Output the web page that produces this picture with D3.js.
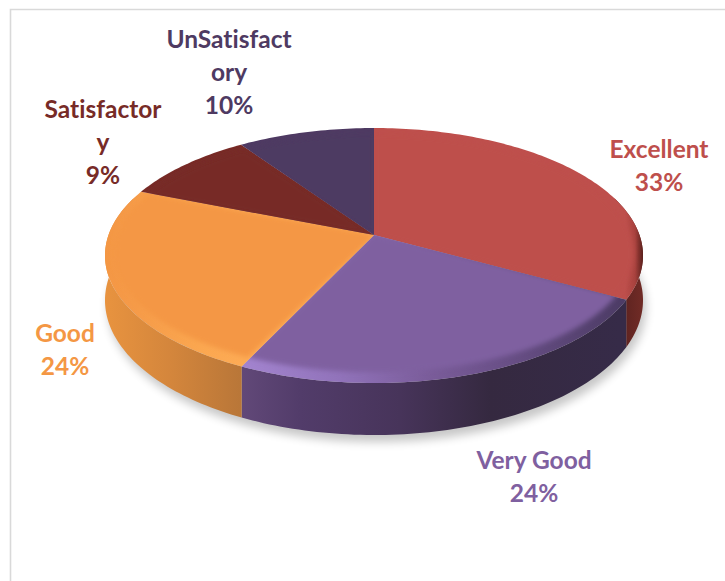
<!DOCTYPE html>
<html>
<head>
<meta charset="utf-8">
<script src="https://cdn.jsdelivr.net/npm/d3@7"></script>
<style>
  html, body { margin: 0; padding: 0; background: #fff; }
  svg { display: block; }
  text { font-family: Lato, "Open Sans", sans-serif; font-weight: 700; font-size: 24.5px; text-anchor: middle; font-variant-ligatures: none; }
</style>
</head>
<body>
<svg id="chart" width="725" height="581"></svg>
<script>
'use strict';

const categories = [ 'Excellent', 'Very Good', 'Good', 'Satisfactory', 'UnSatisfactory' ];
const values     = [ 33, 24, 24, 9.4, 9.6 ];
const colors     = [ '#BE4F4C', '#7F60A0', '#F49744', '#772B27', '#4E3A62' ];

// label centre x and first baseline, same order as categories
const labelX = [ 659, 534, 65, 103, 229 ];
const labelY = [ 158, 469, 342, 118, 48 ];
const lineHeight = 33;

// perspective of the disc
const view = { cx: 374, cy: 235, rx: 265.5, ry: 124.2, tilt: -0.161, depth: 43.6 };

const svg = d3.select( '#chart' );
const color = d3.scaleOrdinal( categories, colors );
const slices = d3.pie().sort( null ).value( (d,i) => values[i] )( categories );

// angle is clockwise from 12 o'clock, sx/sy shrink the disc, down pushes along the rim height
function project( angle, sx, sy, down ) {
  const u = Math.sin( angle ) * sx,
        v = -Math.cos( angle ) * sy,
        w = 1 + view.tilt * v;
  return [ view.cx + view.rx * u / w, view.cy + (view.ry * v + down * view.depth) / w ];
}

function arcPoints( a0, a1, sx, sy, down ) {
  const n = Math.max( 2, Math.ceil( (a1 - a0) / 0.02 ) );
  return d3.range( n + 1 ).map( (i) => project( a0 + (a1 - a0) * i / n, sx, sy, down ) );
}

const line = d3.line().curve( d3.curveLinear );

const wedge = (d, sx, sy) =>
  line( [ project( 0, 0, 0, 0 ) ].concat( arcPoints( d.startAngle, d.endAngle, sx, sy, 0 ) ) ) + 'Z';

const wall = (a0, a1) =>
  line( arcPoints( a0, a1, 1, 1, 0 ).concat( arcPoints( a0, a1, 1, 1, 1 ).reverse() ) ) + 'Z';

// gradient stops along x, for the side walls and the bevel on the rim
const wallStops = {
  'Excellent': [ [ 615, '#55201e' ], [ 640, '#6e2a25' ] ],
  'Very Good': [ [ 243, '#614878' ], [ 300, '#523c6a' ], [ 400, '#47345a' ], [ 490, '#352940' ], [ 620, '#362b48' ] ],
  'Good':      [ [ 105, '#e8933f' ], [ 170, '#d4863c' ], [ 243, '#b87638' ] ]
};
const rimStops = {
  'Excellent': [ [ 625, '#BE4F4C' ], [ 635, '#a8423e' ], [ 643, '#5a201c' ] ],
  'Very Good': [ [ 243, '#a384cf' ], [ 340, '#9173ba' ], [ 430, '#7a5c9a' ], [ 500, '#6a5088' ], [ 620, '#4d3c66' ] ],
  'Good':      [ [ 105, '#F49744' ], [ 130, '#f59a48' ], [ 200, '#fba750' ], [ 243, '#fdab55' ] ]
};

const defs = svg.append( 'defs' );

defs.append( 'filter' ).attr( 'id', 'shadowBlur' )
    .attr( 'x', '-10%' ).attr( 'y', '-10%' ).attr( 'width', '120%' ).attr( 'height', '120%' )
  .append( 'feGaussianBlur' ).attr( 'stdDeviation', 5 );
defs.append( 'filter' ).attr( 'id', 'bevelBlur' )
    .attr( 'x', '-10%' ).attr( 'y', '-10%' ).attr( 'width', '120%' ).attr( 'height', '120%' )
  .append( 'feGaussianBlur' ).attr( 'stdDeviation', 2.5 );

function addGradient( id, stops ) {
  const x0 = stops[0][0], x1 = stops[stops.length - 1][0];
  const g = defs.append( 'linearGradient' ).attr( 'id', id )
    .attr( 'gradientUnits', 'userSpaceOnUse' )
    .attr( 'x1', x0 ).attr( 'x2', x1 ).attr( 'y1', 0 ).attr( 'y2', 0 );
  stops.forEach( (s) => g.append( 'stop' ).attr( 'offset', (s[0] - x0) / (x1 - x0) ).attr( 'stop-color', s[1] ) );
}
const slug = (name) => name.replace( /\s/g, '' );
Object.keys( wallStops ).forEach( (k) => addGradient( 'wall' + slug( k ), wallStops[k] ) );
Object.keys( rimStops ).forEach( (k) => addGradient( 'rim' + slug( k ), rimStops[k] ) );

// chart frame, only the top and left edges fall inside the picture
svg.append( 'path' )
    .attr( 'd', 'M725,9.5H10.5V581' )
    .attr( 'fill', 'none' )
    .attr( 'stroke', '#d9d9d9' )
    .attr( 'stroke-width', 1.6 );

// soft shadow under the disc
const fullTurn = 2 * Math.PI;
svg.append( 'path' )
    .attr( 'd', line( arcPoints( 0, fullTurn, 1, 1, 1 ) ) + 'Z' )
    .attr( 'transform', 'translate(3,7)' )
    .attr( 'fill', '#000' )
    .attr( 'opacity', 0.22 )
    .attr( 'filter', 'url(#shadowBlur)' );

// side walls, only the part of the rim that faces us
const wallFrom = Math.PI * 0.4, wallTo = Math.PI * 1.6;
const front = slices.filter( (d) => d.endAngle > wallFrom && d.startAngle < wallTo );

svg.append( 'g' ).selectAll( 'path' )
    .data( front )
  .join( 'path' )
    .attr( 'd', (d) => wall( Math.max( d.startAngle, wallFrom ), Math.min( d.endAngle, wallTo ) ) )
    .attr( 'fill', (d) => 'url(#wall' + slug( d.data ) + ')' );

// top faces
const faces = svg.append( 'g' ).selectAll( 'g' )
    .data( slices )
  .join( 'g' );

faces.append( 'clipPath' )
    .attr( 'id', (d,i) => 'face' + i )
  .append( 'path' )
    .attr( 'd', (d) => wedge( d, 1, 1 ) );

faces.append( 'path' )
    .attr( 'd', (d) => wedge( d, 1, 1 ) )
    .attr( 'fill', (d) => rimStops[d.data] ? 'url(#rim' + slug( d.data ) + ')' : color( d.data ) );

// inner flat part, blurred a little so the bevel fades in
faces.append( 'g' )
    .attr( 'clip-path', (d,i) => 'url(#face' + i + ')' )
  .append( 'path' )
    .attr( 'd', (d) => wedge( d, 0.965, 0.935 ) )
    .attr( 'fill', (d) => color( d.data ) )
    .attr( 'stroke', (d) => color( d.data ) )
    .attr( 'filter', 'url(#bevelBlur)' );

// labels, wrapped the way the narrow label boxes break them
const labels = svg.append( 'g' ).selectAll( 'text' )
    .data( slices )
  .join( 'text' )
    .attr( 'fill', (d) => color( d.data ) );

labels.each( function( d, i ) {
  const rows = d.data.match( /.{1,11}/g ).concat( [ Math.round( values[i] ) + '%' ] );
  d3.select( this ).selectAll( 'tspan' )
      .data( rows )
    .join( 'tspan' )
      .attr( 'x', labelX[i] )
      .attr( 'y', (r,j) => labelY[i] + j * lineHeight )
      .text( (r) => r );
});
</script>
</body>
</html>
